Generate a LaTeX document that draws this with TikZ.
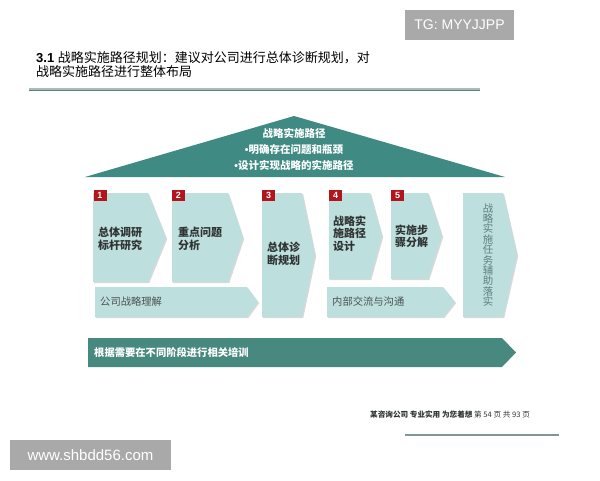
\documentclass[tikz,border=0pt]{standalone}
\usepackage{fontspec}
\setmainfont{Liberation Sans}
\newfontfamily\cjk{Noto Sans CJK SC}
\definecolor{roofteal}{HTML}{3F8A82}
\definecolor{barteal}{HTML}{47887F}
\definecolor{paleteal}{HTML}{BDDFDD}
\definecolor{badgered}{HTML}{B3151C}
\definecolor{ruledark}{HTML}{5F7F7D}
\definecolor{rulelight}{HTML}{A8BCBA}
\definecolor{textdark}{HTML}{2F3433}
\definecolor{vertgrey}{HTML}{5F807D}
\definecolor{markgrey}{HTML}{A9A9A9}
\tikzset{
  stepfill/.style={fill=paleteal},
  stepshadow/.style={fill=black!15,xshift=1.2pt,yshift=-1.2pt},
  badge/.style={fill=badgered,text=white,font=\bfseries\fontsize{9}{9}\selectfont,
    minimum width=13pt,minimum height=11pt,inner sep=0pt},
  steptext/.style={anchor=west,align=left,inner sep=0pt,text=textdark,
    font=\cjk\bfseries\fontsize{11}{12.5}\selectfont},
  bartext/.style={anchor=west,inner sep=0pt,text=textdark!85,
    font=\cjk\fontsize{10.3}{12}\selectfont},
  watermark/.style={fill=markgrey,text=white,inner sep=0pt,
    font=\fontsize{14}{14}\selectfont}
}
\begin{document}
\begin{tikzpicture}[x=1pt,y=-1pt]
\useasboundingbox (0,0) rectangle (600,480);
% title and rule
\node[anchor=north west,align=left,inner sep=0pt,font=\fontsize{13}{14}\selectfont] (title) at (36,51)
  {{\bfseries 3.1} \cjk 战略实施路径规划：建议对公司进行总体诊断规划，对\\\cjk 战略实施路径进行整体布局};
\draw[rulelight,line width=1.5pt] (29,89)--(480,89);
\draw[ruledark,line width=1.5pt] (29,90.5)--(480,90.5);
% roof
\fill[roofteal] (85,177)--(294,116)--(505,177)--cycle;
\node[align=center,inner sep=0pt,text=white,font=\cjk\bfseries\fontsize{10.5}{16}\selectfont] (roof) at (294,149)
  {战略实施路径\\{\rmfamily •}明确存在问题和瓶颈\\{\rmfamily •}设计实现战略的实施路径};
% steps
\fill[stepshadow] (93,193)--(148,193)--(166,238)--(148,282)--(93,282)--cycle;
\fill[stepfill] (93,193)--(148,193)--(166,238)--(148,282)--(93,282)--cycle;
\fill[stepshadow] (172,193)--(228,193)--(243,238)--(228,282)--(172,282)--cycle;
\fill[stepfill] (172,193)--(228,193)--(243,238)--(228,282)--(172,282)--cycle;
\fill[stepshadow] (262,193)--(302,193)--(315,255)--(302,317)--(262,317)--cycle;
\fill[stepfill] (262,193)--(302,193)--(315,255)--(302,317)--(262,317)--cycle;
\fill[stepshadow] (329,193)--(370,193)--(382,236)--(370,279)--(329,279)--cycle;
\fill[stepfill] (329,193)--(370,193)--(382,236)--(370,279)--(329,279)--cycle;
\fill[stepshadow] (391,193)--(428,193)--(442,236)--(428,279)--(391,279)--cycle;
\fill[stepfill] (391,193)--(428,193)--(442,236)--(428,279)--(391,279)--cycle;
\fill[stepshadow] (463,193)--(503,193)--(517,255)--(503,317)--(463,317)--cycle;
\fill[stepfill] (463,193)--(503,193)--(517,255)--(503,317)--(463,317)--cycle;
% lower bars
\fill[stepshadow] (95,287)--(247,287)--(258,302)--(247,317)--(95,317)--cycle;
\fill[stepfill] (95,287)--(247,287)--(258,302)--(247,317)--(95,317)--cycle;
\fill[stepshadow] (327,287)--(443,287)--(455,302)--(443,317)--(327,317)--cycle;
\fill[stepfill] (327,287)--(443,287)--(455,302)--(443,317)--(327,317)--cycle;
\fill[barteal] (88,338)--(502,338)--(516,352.5)--(502,367)--(88,367)--cycle;
% badges
\node[badge] (b1) at (100,195) {1};
\node[badge] (b2) at (178.5,195) {2};
\node[badge] (b3) at (268.5,195) {3};
\node[badge] (b4) at (335.5,195) {4};
\node[badge] (b5) at (397.5,195) {5};
% texts
\node[steptext] (t1) at (98,239) {总体调研\\标杆研究};
\node[steptext] (t2) at (178,239) {重点问题\\分析};
\node[steptext] (t3) at (267,254) {总体诊\\断规划};
\node[steptext] (t4) at (333,233.5) {战略实\\施路径\\设计};
\node[steptext] (t5) at (395,236) {实施步\\骤分解};
\node[align=center,inner sep=0pt,text=vertgrey,font=\cjk\fontsize{10.4}{10.4}\selectfont] (t6) at (488,255)
  {战\\略\\实\\施\\任\\务\\辅\\助\\落\\实};
\node[bartext] (ta) at (100,302) {公司战略理解};
\node[bartext] (tb) at (332,302) {内部交流与沟通};
\node[bartext,text=white,font=\cjk\bfseries\fontsize{10.3}{12}\selectfont] (tc) at (94,352.5) {根据需要在不同阶段进行相关培训};
% footer
\node[anchor=west,inner sep=0pt,text=textdark,font=\cjk\fontsize{7.6}{9}\selectfont] (foot) at (370,415)
  {{\bfseries 某咨询公司 专业实用 为您着想} 第 54 页 共 93 页};
\draw[ruledark!80,line width=2pt] (405,435)--(559,435);
% watermarks
\fill[markgrey] (405,10) rectangle (514,40);
\node[watermark] (tg) at (459.5,25) {TG: MYYJJPP};
\fill[markgrey] (10,440) rectangle (171,470);
\node[watermark,font=\fontsize{15}{15}\selectfont] (www) at (90.5,455) {www.shbdd56.com};
\end{tikzpicture}
\end{document}
